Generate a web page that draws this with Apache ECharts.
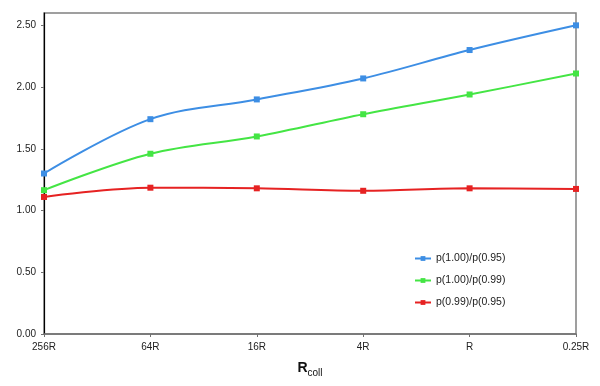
<!DOCTYPE html>
<html>
<head>
<meta charset="utf-8">
<title>p ratio vs Rcoll</title>
<script src="https://cdn.jsdelivr.net/npm/echarts@6/dist/echarts.min.js"></script>
<style>
  html, body { margin: 0; padding: 0; background: #fff; }
  #chart { width: 600px; height: 386px; }
</style>
</head>
<body>
<div id="chart"></div>
<script>
// categories along the x axis
var categories = ['256R', '64R', '16R', '4R', 'R', '0.25R'];
// series values
var blueVals  = [1.30, 1.74, 1.90, 2.07, 2.30, 2.50];
var greenVals = [1.165, 1.46, 1.60, 1.78, 1.94, 2.11];
var redVals   = [1.11, 1.185, 1.18, 1.16, 1.18, 1.175];
var seriesNames = ['p(1.00)/p(0.95)', 'p(1.00)/p(0.99)', 'p(0.99)/p(0.95)'];

var colors = ['#3d8ee4', '#44e544', '#e62222'];

function mkSeries(name, data, color) {
  return {
    name: name,
    type: 'line',
    data: data,
    smooth: 0.35,
    symbol: 'rect',
    symbolSize: 6,
    color: color,
    lineStyle: { width: 2, color: color },
    itemStyle: { color: color }
  };
}

var chart = echarts.init(document.getElementById('chart'));
chart.setOption({
  animation: false,
  color: colors,
  grid: {
    left: 44, right: 24, top: 13, bottom: 52,
    show: true, borderColor: '#808080', borderWidth: 1.5
  },
  legend: {
    orient: 'vertical',
    left: 414, top: 253,
    padding: 0,
    itemGap: 11,
    itemWidth: 16, itemHeight: 6,
    textStyle: { fontSize: 10.5, color: '#222', fontFamily: 'Liberation Sans' },
    data: seriesNames
  },
  xAxis: {
    type: 'category',
    data: categories,
    boundaryGap: false,
    axisLine: { lineStyle: { color: '#707070', width: 1.5 } },
    axisTick: { show: true, length: 3, lineStyle: { color: '#707070' } },
    axisLabel: { fontSize: 10, color: '#222', margin: 8, fontFamily: 'Liberation Sans' },
    name: '{b|R}{s|coll}',
    nameLocation: 'middle',
    nameGap: 24,
    nameTextStyle: {
      rich: {
        b: { fontSize: 14, fontWeight: 'bold', color: '#111', fontFamily: 'Liberation Sans' },
        s: { fontSize: 10, color: '#111', fontFamily: 'Liberation Sans', padding: [10, 0, 0, 0] }
      }
    }
  },
  yAxis: {
    type: 'value',
    min: 0, max: 2.6, interval: 0.5,
    axisLine: { show: true, lineStyle: { color: '#000', width: 1.2 } },
    axisTick: { show: true, length: 3, lineStyle: { color: '#707070' } },
    splitLine: { show: false },
    axisLabel: {
      fontSize: 10, color: '#222', margin: 8, fontFamily: 'Liberation Sans',
      showMaxLabel: false,
      formatter: function (v) { return v.toFixed(2); }
    }
  },
  series: [
    mkSeries(seriesNames[0], blueVals, colors[0]),
    mkSeries(seriesNames[1], greenVals, colors[1]),
    mkSeries(seriesNames[2], redVals, colors[2])
  ]
});
</script>
</body>
</html>
